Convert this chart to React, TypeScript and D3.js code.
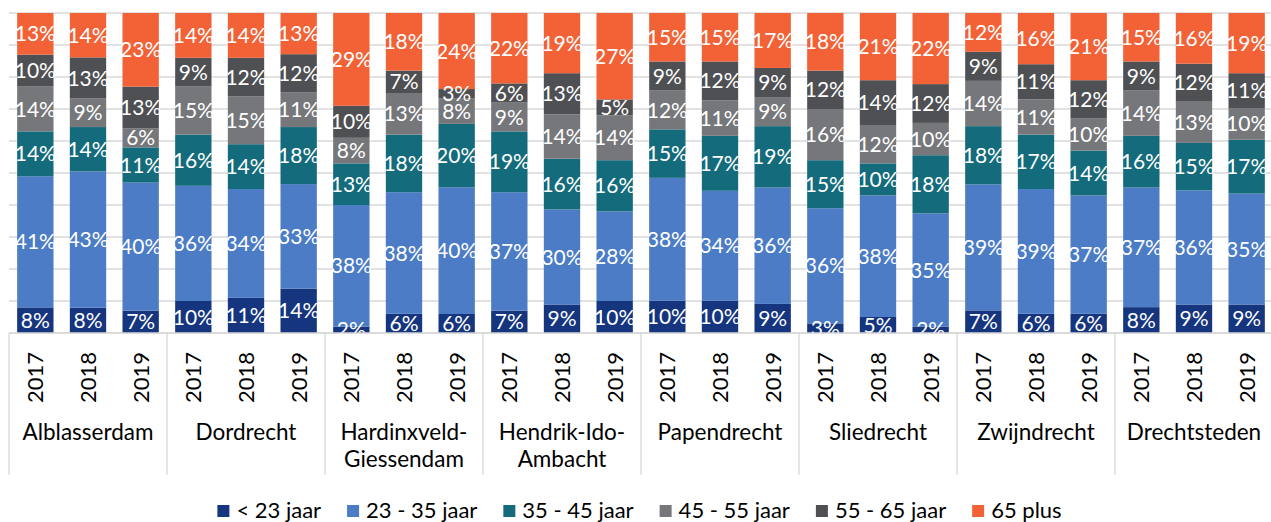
import React, { useEffect, useRef } from "react";
import * as d3 from "d3";

// gemeenten en jaren
const gemeenten = ["Alblasserdam", "Dordrecht", "Hardinxveld-Giessendam", "Hendrik-Ido-Ambacht", "Papendrecht", "Sliedrecht", "Zwijndrecht", "Drechtsteden"];
const gemeenteRegels = [["Alblasserdam"], ["Dordrecht"], ["Hardinxveld-", "Giessendam"], ["Hendrik-Ido-", "Ambacht"], ["Papendrecht"], ["Sliedrecht"], ["Zwijndrecht"], ["Drechtsteden"]];
const jaren = ["2017", "2018", "2019"];

const leeftijden = ["< 23 jaar", "23 - 35 jaar", "35 - 45 jaar", "45 - 55 jaar", "55 - 65 jaar", "65 plus"];
const kleuren = ["#15357f", "#4b7cc5", "#146b7b", "#76777a", "#4f5053", "#f26236"];

// percentages per leeftijdsgroep, 24 staven (gemeente x jaar)
const onder23 = [8, 8, 7, 10, 11, 14, 2, 6, 6, 7, 9, 10, 10, 10, 9, 3, 5, 2, 7, 6, 6, 8, 9, 9];
const van23tot35 = [41, 43, 40, 36, 34, 33, 38, 38, 40, 37, 30, 28, 38, 34, 36, 36, 38, 35, 39, 39, 37, 37, 36, 35];
const van35tot45 = [14, 14, 11, 16, 14, 18, 13, 18, 20, 19, 16, 16, 15, 17, 19, 15, 10, 18, 18, 17, 14, 16, 15, 17];
const van45tot55 = [14, 9, 6, 15, 15, 11, 8, 13, 8, 9, 14, 14, 12, 11, 9, 16, 12, 10, 14, 11, 10, 14, 13, 10];
const van55tot65 = [10, 13, 13, 9, 12, 12, 10, 7, 3, 6, 13, 5, 9, 12, 9, 12, 14, 12, 9, 11, 12, 9, 12, 11];
const plus65 = [13, 14, 23, 14, 14, 13, 29, 18, 24, 22, 19, 27, 15, 15, 17, 18, 21, 22, 12, 16, 21, 15, 16, 19];

const reeksen = [onder23, van23tot35, van35tot45, van45tot55, van55tot65, plus65];

export default function App() {
  const ref = useRef<SVGSVGElement>(null);

  useEffect(() => {
    const W = 1271, H = 522;
    const margin = { top: 13, left: 9, right: -2, bottom: 189 };
    const svg = d3.select(ref.current);
    svg.selectAll("*").remove();
    const font = "Lato, 'Open Sans', sans-serif";

    const plotW = W - margin.left - margin.right;
    const plotH = H - margin.top - margin.bottom;

    // een rij per staaf
    const rows = gemeenten.flatMap((g, gi) =>
      jaren.map((j, ji) => {
        const i = gi * 3 + ji;
        const r: any = { key: g + "|" + j, gemeente: g, jaar: j };
        const tot = d3.sum(reeksen, (s) => s[i]);
        leeftijden.forEach((l, li) => { r[l] = reeksen[li][i] / tot; r["lbl" + li] = reeksen[li][i]; });
        return r;
      })
    );

    const x = d3.scaleBand().domain(rows.map((r) => r.key)).range([margin.left, margin.left + plotW]).paddingInner(0.31).paddingOuter(0.155);
    const xg = d3.scaleBand().domain(gemeenten).range([margin.left, margin.left + plotW]);
    const y = d3.scaleLinear().domain([0, 1]).range([margin.top + plotH, margin.top]);

    // rasterlijnen
    svg.append("g")
      .selectAll("line")
      .data(y.ticks(10))
      .join("line")
      .attr("x1", margin.left)
      .attr("x2", W)
      .attr("y1", (d) => y(d))
      .attr("y2", (d) => y(d))
      .attr("stroke", "#d9d9d9")
      .attr("stroke-width", 1.3);

    const stack = d3.stack<any>().keys(leeftijden);
    const series = stack(rows);

    const g = svg.append("g");
    series.forEach((s, si) => {
      g.append("g")
        .attr("fill", kleuren[si])
        .selectAll("rect")
        .data(s)
        .join("rect")
        .attr("x", (d) => x(d.data.key)!)
        .attr("width", x.bandwidth())
        .attr("y", (d) => y(d[1]))
        .attr("height", (d) => y(d[0]) - y(d[1]));
    });

    // labels
    series.forEach((s, si) => {
      g.append("g")
        .selectAll("text")
        .data(s)
        .join("text")
        .attr("x", (d) => x(d.data.key)! + x.bandwidth() / 2)
        .attr("y", (d) => (y(d[0]) + y(d[1])) / 2)
        .attr("dy", "0.36em")
        .attr("text-anchor", "middle")
        .attr("fill", "#fff")
        .style("font-family", font)
        .style("font-size", "21px")
        .text((d) => d.data["lbl" + si] + "%");
    });

    // as onderaan
    const axisBottom = y(0);
    svg.append("line")
      .attr("x1", margin.left).attr("x2", W)
      .attr("y1", axisBottom).attr("y2", axisBottom)
      .attr("stroke", "#d9d9d9").attr("stroke-width", 1.3);

    svg.append("g")
      .selectAll("line")
      .data(gemeenten.concat(["__end"]))
      .join("line")
      .attr("x1", (d) => (d === "__end" ? margin.left + plotW : xg(d)!))
      .attr("x2", (d) => (d === "__end" ? margin.left + plotW : xg(d)!))
      .attr("y1", axisBottom)
      .attr("y2", axisBottom + 142)
      .attr("stroke", "#d9d9d9")
      .attr("stroke-width", 1.3);

    svg.append("g")
      .selectAll("text")
      .data(rows)
      .join("text")
      .attr("transform", (d) => `translate(${x(d.key)! + x.bandwidth() / 2},${axisBottom + 19}) rotate(-90)`)
      .attr("text-anchor", "end")
      .attr("dy", "0.36em")
      .attr("fill", "#000")
      .style("font-family", font)
      .style("font-size", "22px")
      .text((d) => d.jaar);

    gemeenteRegels.forEach((regels, gi) => {
      regels.forEach((regel, ri) => {
        svg.append("text")
          .attr("x", xg(gemeenten[gi])! + xg.bandwidth() / 2)
          .attr("y", axisBottom + 107 + ri * 27)
          .attr("text-anchor", "middle")
          .attr("fill", "#000")
          .style("font-family", font)
          .style("font-size", "22.5px")
          .text(regel);
      });
    });

    // legenda
    const leg = svg.append("g");
    const items = leg.selectAll("g").data(leeftijden).join("g");
    items.append("rect").attr("width", 12).attr("height", 12).attr("y", -13).attr("fill", (d, i) => kleuren[i]);
    items.append("text")
      .attr("x", 19)
      .attr("y", 0)
      .attr("fill", "#000")
      .style("font-family", font)
      .style("font-size", "22px")
      .text((d) => d);
    let pos = 0;
    items.each(function () {
      const w = (d3.select(this).select("text").node() as SVGTextElement).getComputedTextLength();
      d3.select(this).attr("transform", `translate(${pos},0)`);
      pos += 19 + w + 26;
    });
    const totalW = pos - 26;
    leg.attr("transform", `translate(${(W - totalW) / 2 + 4},${H - 4})`);
  }, []);

  return (
    <svg ref={ref} width={1271} height={522} style={{ position: "absolute", left: 0, top: 0, background: "#fff" }} />
  );
}
